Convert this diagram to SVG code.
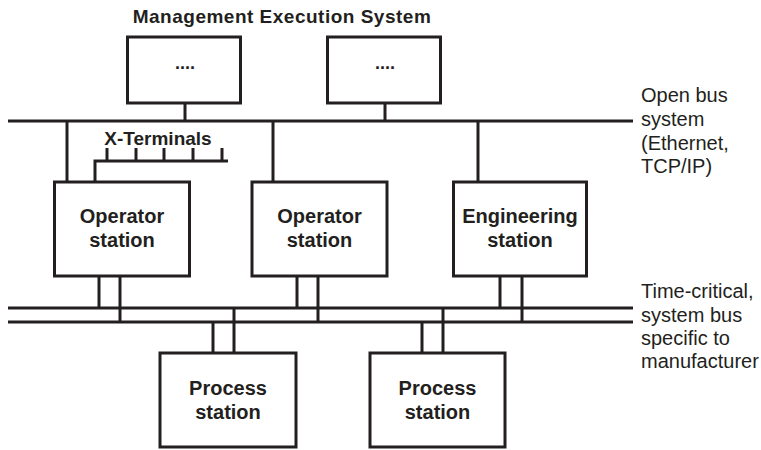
<svg xmlns="http://www.w3.org/2000/svg" width="761" height="450" viewBox="0 0 761 450">
<style>
.box{fill:#fff;stroke:#231f20;stroke-width:3}
.ln{stroke:#231f20;stroke-width:3;fill:none}
.tb{font-family:"Liberation Sans",Arial,sans-serif;font-weight:bold;fill:#231f20;text-anchor:middle}
.tr{font-family:"Liberation Sans",Arial,sans-serif;fill:#231f20;font-size:20px}
</style>
<rect width="761" height="450" fill="#fff"/>
<g id="connectors">
<line class="ln" x1="8" y1="121" x2="633" y2="121"/>
<line class="ln" x1="8" y1="308" x2="633" y2="308"/>
<line class="ln" x1="8" y1="322" x2="633" y2="322"/>
<line class="ln" x1="185" y1="103" x2="185" y2="121"/>
<line class="ln" x1="385" y1="103" x2="385" y2="121"/>
<line class="ln" x1="67" y1="121" x2="67" y2="182"/>
<line class="ln" x1="273" y1="121" x2="273" y2="182"/>
<line class="ln" x1="478" y1="121" x2="478" y2="182"/>
<polyline class="ln" points="95,182 95,161 228,161"/>
<line class="ln" x1="107" y1="148" x2="107" y2="161"/>
<line class="ln" x1="136" y1="148" x2="136" y2="161"/>
<line class="ln" x1="164" y1="148" x2="164" y2="161"/>
<line class="ln" x1="193" y1="148" x2="193" y2="161"/>
<line class="ln" x1="222" y1="148" x2="222" y2="161"/>
<line class="ln" x1="99" y1="276" x2="99" y2="308"/>
<line class="ln" x1="120" y1="276" x2="120" y2="322"/>
<line class="ln" x1="297" y1="276" x2="297" y2="308"/>
<line class="ln" x1="318" y1="276" x2="318" y2="322"/>
<line class="ln" x1="500" y1="276" x2="500" y2="308"/>
<line class="ln" x1="522" y1="276" x2="522" y2="322"/>
<line class="ln" x1="213" y1="322" x2="213" y2="353"/>
<line class="ln" x1="234" y1="308" x2="234" y2="353"/>
<line class="ln" x1="422" y1="322" x2="422" y2="353"/>
<line class="ln" x1="443" y1="308" x2="443" y2="353"/>
</g>
<text class="tb" x="282" y="23" font-size="19" letter-spacing="0.5">Management Execution System</text>
<g id="mes1"><rect class="box" x="127.5" y="37" width="113" height="66"/><text class="tb" x="185" y="69" font-size="18">....</text></g>
<g id="mes2"><rect class="box" x="327.5" y="37" width="113" height="66"/><text class="tb" x="385" y="69" font-size="18">....</text></g>
<text class="tb" x="158" y="145" font-size="19">X-Terminals</text>
<g id="op1"><rect class="box" x="54.5" y="182" width="135" height="94"/><text class="tb" x="122" y="223" font-size="20">Operator</text><text class="tb" x="122" y="247" font-size="20">station</text></g>
<g id="op2"><rect class="box" x="252" y="182" width="135" height="94"/><text class="tb" x="319.5" y="223" font-size="20">Operator</text><text class="tb" x="319.5" y="247" font-size="20">station</text></g>
<g id="eng"><rect class="box" x="453.5" y="182" width="133" height="94"/><text class="tb" x="520" y="223" font-size="20">Engineering</text><text class="tb" x="520" y="247" font-size="20">station</text></g>
<g id="ps1"><rect class="box" x="160" y="353" width="136" height="94"/><text class="tb" x="228" y="395" font-size="20">Process</text><text class="tb" x="228" y="419" font-size="20">station</text></g>
<g id="ps2"><rect class="box" x="370" y="353" width="135" height="94"/><text class="tb" x="437.5" y="395" font-size="20">Process</text><text class="tb" x="437.5" y="419" font-size="20">station</text></g>
<g id="label-open">
<text class="tr" x="641" y="102">Open bus</text>
<text class="tr" x="641" y="126">system</text>
<text class="tr" x="641" y="150">(Ethernet,</text>
<text class="tr" x="641" y="173">TCP/IP)</text>
</g>
<g id="label-time">
<text class="tr" x="641" y="298">Time-critical,</text>
<text class="tr" x="641" y="322">system bus</text>
<text class="tr" x="641" y="345">specific to</text>
<text class="tr" x="641" y="368">manufacturer</text>
</g>
</svg>
